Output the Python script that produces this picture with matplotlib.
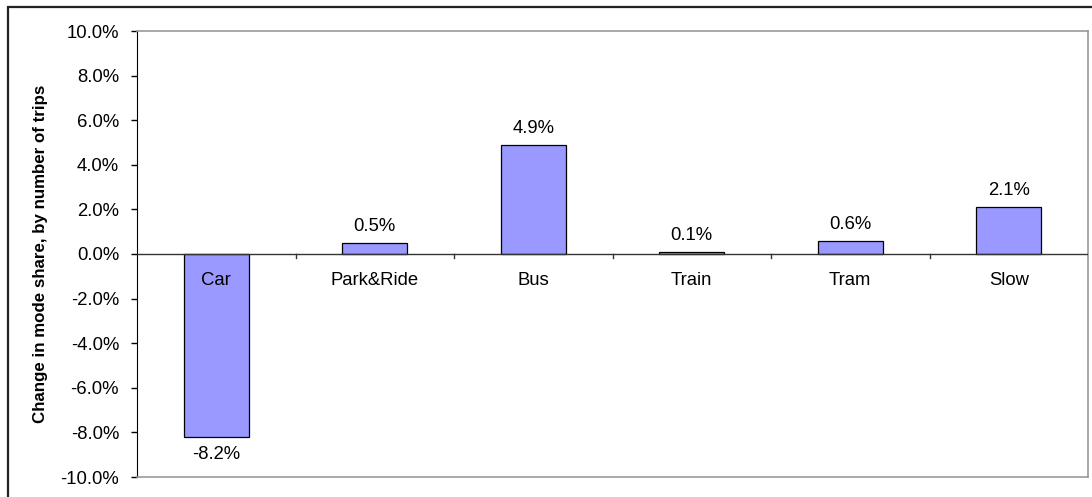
import matplotlib.pyplot as plt
from matplotlib.patches import Rectangle

categories = ["Car", "Park&Ride", "Bus", "Train", "Tram", "Slow"]
changes = [-8.2, 0.5, 4.9, 0.1, 0.6, 2.1]
value_labels = ["-8.2%", "0.5%", "4.9%", "0.1%", "0.6%", "2.1%"]

W, H = 1092, 497
fig = plt.figure(figsize=(W / 100, H / 100), dpi=100)
plt.rcParams['font.family'] = ['Liberation Sans', 'DejaVu Sans']

# outer chart frame (right/bottom edges fall outside the image)
fig.patches.append(Rectangle((8 / W, -0.1), 1.2, 1 - 7 / H + 0.1, transform=fig.transFigure,
                             fill=False, edgecolor="#222222", linewidth=1.6))

left, right, top, bottom = 137, 1088, 31, 477
ax = fig.add_axes([left / W, 1 - bottom / H, (right - left) / W, (bottom - top) / H])

x = list(range(len(categories)))
ax.bar(x, changes, width=0.41, color="#9999FF", edgecolor="black", linewidth=0.9, zorder=3)
ax.set_xlim(-0.5, len(categories) - 0.5)
ax.set_ylim(-10, 10)

ax.axhline(0, color="#333333", linewidth=1, zorder=4)
for i in range(1, len(categories)):
    ax.plot([i - 0.5, i - 0.5], [0, -0.2], color="#333333", linewidth=1, zorder=4)

fs = 13.3
for i, (v, lab) in enumerate(zip(changes, value_labels)):
    if v >= 0:
        ax.text(i, v + 0.35, lab, ha="center", va="bottom", fontsize=fs)
    else:
        ax.text(i, v - 0.4, lab, ha="center", va="top", fontsize=fs)
    ax.text(i, -0.8, categories[i], ha="center", va="top", fontsize=fs, zorder=5)

yt = list(range(-10, 11, 2))
ax.set_yticks(yt)
ax.set_yticklabels([f"{t:.1f}%" for t in yt], fontsize=fs)
ax.set_xticks([])
ax.tick_params(axis="y", length=4.3, width=1, color="black", pad=8.6)
ax.set_ylabel("Change in mode share, by number of trips", fontsize=12.2, fontweight="bold", labelpad=9)

ax.spines["left"].set_color("black")
for s in ["top", "right", "bottom"]:
    ax.spines[s].set_color("#999999")
    ax.spines[s].set_linewidth(1.2)

fig.savefig("out.png", dpi=100)
